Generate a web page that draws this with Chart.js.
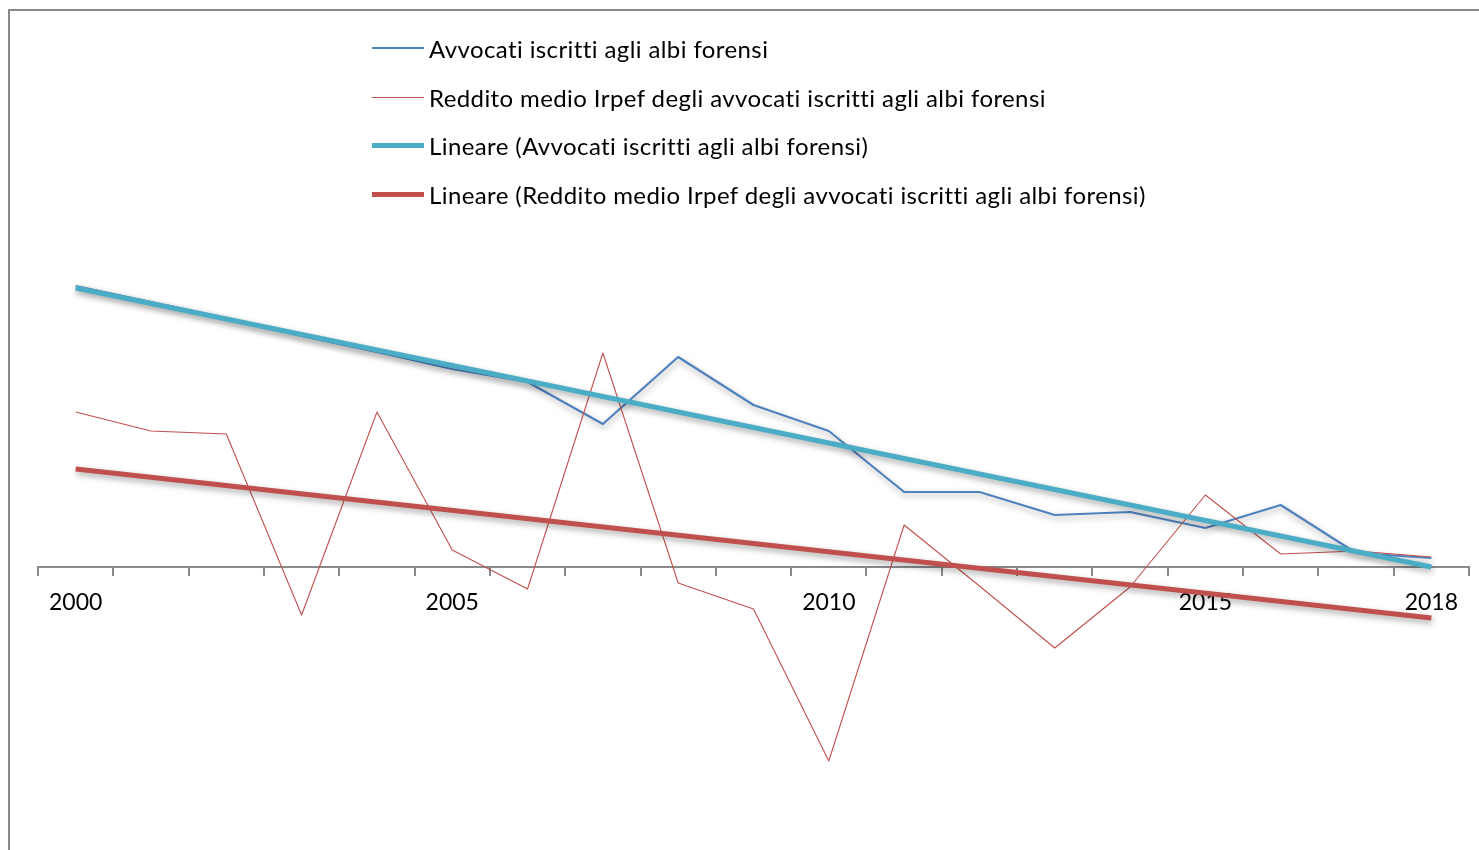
<!DOCTYPE html>
<html>
<head>
<meta charset="utf-8">
<script src="https://cdn.jsdelivr.net/npm/chart.js@4"></script>
<style>
  html, body { margin: 0; padding: 0; background: #fff; }
  body { width: 1479px; height: 850px; position: relative; overflow: hidden; font-family: Lato, "Open Sans", sans-serif; }
  #frame { position: absolute; left: 8px; top: 9px; width: 1480px; height: 850px; border-left: 2px solid #8a8a8a; border-top: 2px solid #8a8a8a; }
  #c { position: absolute; left: 0; top: 0; }
  .leg { position: absolute; left: 372px; height: 30px; display: flex; align-items: center; font-size: 24px; letter-spacing: 0.4px; font-variant-ligatures: none; color: #000; white-space: nowrap; }
  .leg .sw { width: 52px; margin-right: 5px; }
</style>
</head>
<body>
<div id="frame"></div>
<canvas id="c" width="1479" height="850"></canvas>
<div id="legend"></div>
<script>
const categories = ['2000','2001','2002','2003','2004','2005','2006','2007','2008','2009','2010','2011','2012','2013','2014','2015','2016','2017','2018'];
const shownTickLabels = ['2000','2005','2010','2015','2018'];
const seriesNames = [
  'Avvocati iscritti agli albi forensi',
  'Reddito medio Irpef degli avvocati iscritti agli albi forensi',
  'Lineare (Avvocati iscritti agli albi forensi)',
  'Lineare (Reddito medio Irpef degli avvocati iscritti agli albi forensi)'
];
const avvocati = [28.1, 26.5, 24.9, 23.1, 21.5, 19.8, 18.5, 14.3, 21.0, 16.2, 13.6, 7.5, 7.5, 5.2, 5.5, 3.9, 6.2, 1.4, 0.9];
const reddito  = [15.5, 13.6, 13.3, -4.8, 15.5, 1.7, -2.2, 21.4, -1.6, -4.2, -19.4, 4.2, -1.9, -8.1, -2.0, 7.2, 1.3, 1.6, 1.0];
// trend lines: only the two end values
const trendAvvocati = [27.9, null, null, null, null, null, null, null, null, null, null, null, null, null, null, null, null, null, 0.0];
const trendReddito  = [9.8, null, null, null, null, null, null, null, null, null, null, null, null, null, null, null, null, null, -5.1];

const colors = ['#4F81BD', '#C0504D', '#4BACC6', '#C0504D'];
const widths = [2.2, 1.1, 5, 5];
const shadowed = [true, false, true, true];

// HTML legend
const legendTops = [33, 82, 130, 179];
const legendEl = document.getElementById('legend');
seriesNames.forEach((n, i) => {
  const d = document.createElement('div');
  d.className = 'leg';
  d.style.top = legendTops[i] + 'px';
  d.innerHTML = '<div class="sw" style="height:' + Math.round(widths[i]) + 'px;background:' + colors[i] + '"></div><span>' + n + '</span>';
  legendEl.appendChild(d);
});

const shadowPlugin = {
  id: 'shadowPlugin',
  beforeDatasetDraw(chart, args) {
    const ctx = chart.ctx;
    ctx.save();
    if (shadowed[args.index]) {
      ctx.shadowColor = 'rgba(0,0,0,0.35)';
      ctx.shadowBlur = 6;
      ctx.shadowOffsetX = 1;
      ctx.shadowOffsetY = 3;
    }
  },
  afterDatasetDraw(chart) {
    chart.ctx.restore();
  }
};

const dataArrays = [avvocati, reddito, trendAvvocati, trendReddito];
const orders = [4, 3, 2, 1];

new Chart(document.getElementById('c'), {
  type: 'line',
  data: {
    labels: categories,
    datasets: dataArrays.map((d, i) => ({
      label: seriesNames[i],
      data: d,
      borderColor: colors[i],
      backgroundColor: colors[i],
      borderWidth: widths[i],
      pointRadius: 0,
      pointHoverRadius: 0,
      tension: 0,
      fill: false,
      spanGaps: true,
      order: orders[i],
      borderCapStyle: 'butt',
      borderJoinStyle: 'round'
    }))
  },
  options: {
    responsive: false,
    animation: false,
    events: [],
    layout: { padding: { left: 38, right: 10, top: 10, bottom: 0 } },
    plugins: { legend: { display: false }, tooltip: { enabled: false } },
    scales: {
      x: {
        type: 'category',
        position: { y: 0 },
        offset: true,
        grid: { display: true, drawOnChartArea: false, drawTicks: true, tickLength: 8, color: '#8a8a8a', lineWidth: 2, offset: true },
        border: { display: true, color: '#8a8a8a', width: 2 },
        ticks: {
          autoSkip: false,
          maxRotation: 0,
          color: '#000',
          padding: 14,
          font: { family: 'Lato', size: 23 },
          callback: function (val, idx) {
            const l = categories[idx];
            return shownTickLabels.includes(l) ? l : '';
          }
        }
      },
      y: {
        display: false,
        min: -28.3,
        max: 55.7
      }
    }
  },
  plugins: [shadowPlugin]
});
</script>
</body>
</html>
